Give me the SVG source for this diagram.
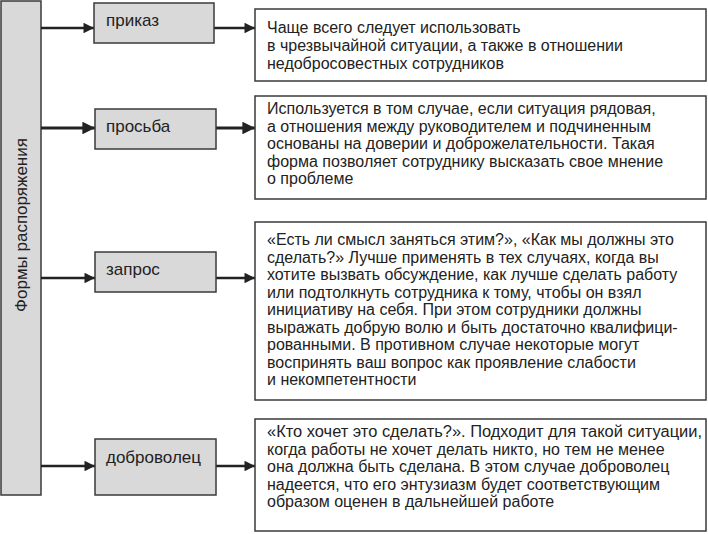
<svg xmlns="http://www.w3.org/2000/svg" width="708" height="534" viewBox="0 0 708 534">
<defs>
<style>
.form{fill:#d9d9d9;stroke:#3a3a3a;stroke-width:1.5}
.desc{fill:#ffffff;stroke:#3a3a3a;stroke-width:1.5}
.lbl{font-family:"Liberation Sans",Arial,sans-serif;font-size:17px;fill:#222}
.txt{font-family:"Liberation Sans",Arial,sans-serif;font-size:16px;fill:#222}
.conn{stroke:#222;stroke-width:2.5;fill:none;marker-end:url(#ah)}
</style>
<marker id="ah" viewBox="0 0 10 10" refX="10" refY="5" markerWidth="4.6" markerHeight="4.2" orient="auto" markerUnits="strokeWidth">
<path d="M0,0 L10,5 L0,10 z" fill="#222"/>
</marker>
</defs>
<rect width="708" height="534" fill="#ffffff"/>
<g id="root">
<rect class="form" x="1" y="1" width="40" height="494"/>
<text class="lbl" transform="translate(27 225) rotate(-90)" text-anchor="middle">Формы распоряжения</text>
</g>
<g id="connectors">
<line class="conn" x1="41" y1="28" x2="94" y2="28"/>
<line class="conn" x1="214" y1="28" x2="255" y2="28"/>
<line class="conn" x1="41" y1="128" x2="95" y2="128" style="stroke-width:3"/>
<line class="conn" x1="216" y1="128" x2="255" y2="128" style="stroke-width:3"/>
<line class="conn" x1="41" y1="278" x2="95" y2="278"/>
<line class="conn" x1="216" y1="278" x2="255" y2="278"/>
<line class="conn" x1="41" y1="466" x2="95" y2="466"/>
<line class="conn" x1="216" y1="466" x2="255" y2="466"/>
</g>
<g id="prikaz">
<rect class="form" x="94" y="3" width="120" height="40"/>
<text class="lbl" x="106" y="26">приказ</text>
</g>
<g id="prosba">
<rect class="form" x="95" y="109" width="121" height="40"/>
<text class="lbl" x="106" y="132">просьба</text>
</g>
<g id="zapros">
<rect class="form" x="95" y="252" width="121" height="40"/>
<text class="lbl" x="106" y="275">запрос</text>
</g>
<g id="dobrovolets">
<rect class="form" x="95" y="439" width="121" height="56"/>
<text class="lbl" x="106" y="463">доброволец</text>
</g>
<g id="desc-prikaz">
<rect class="desc" x="255" y="9" width="451" height="72"/>
<text class="txt" x="267" y="33">Чаще всего следует использовать</text>
<text class="txt" x="267" y="51">в чрезвычайной ситуации, а также в отношении</text>
<text class="txt" x="267" y="69">недобросовестных сотрудников</text>
</g>
<g id="desc-prosba">
<rect class="desc" x="255" y="96" width="451" height="103"/>
<text class="txt" x="267" y="114">Используется в том случае, если ситуация рядовая,</text>
<text class="txt" x="267" y="131.5">а отношения между руководителем и подчиненным</text>
<text class="txt" x="267" y="149">основаны на доверии и доброжелательности. Такая</text>
<text class="txt" x="267" y="166.5">форма позволяет сотруднику высказать свое мнение</text>
<text class="txt" x="267" y="184">о проблеме</text>
</g>
<g id="desc-zapros">
<rect class="desc" x="255" y="222" width="451" height="178"/>
<text class="txt" x="267" y="245">«Есть ли смысл заняться этим?», «Как мы должны это</text>
<text class="txt" x="267" y="262.5">сделать?» Лучше применять в тех случаях, когда вы</text>
<text class="txt" x="267" y="280">хотите вызвать обсуждение, как лучше сделать работу</text>
<text class="txt" x="267" y="297.5">или подтолкнуть сотрудника к тому, чтобы он взял</text>
<text class="txt" x="267" y="315">инициативу на себя. При этом сотрудники должны</text>
<text class="txt" x="267" y="332.5">выражать добрую волю и быть достаточно квалифици-</text>
<text class="txt" x="267" y="350">рованными. В противном случае некоторые могут</text>
<text class="txt" x="267" y="367.5">воспринять ваш вопрос как проявление слабости</text>
<text class="txt" x="267" y="385">и некомпетентности</text>
</g>
<g id="desc-dobrovolets">
<rect class="desc" x="255" y="419" width="451" height="112"/>
<text class="txt" x="267" y="437" textLength="435" lengthAdjust="spacingAndGlyphs">«Кто хочет это сделать?». Подходит для такой ситуации,</text>
<text class="txt" x="267" y="454.5">когда работы не хочет делать никто, но тем не менее</text>
<text class="txt" x="267" y="472">она должна быть сделана. В этом случае доброволец</text>
<text class="txt" x="267" y="489.5">надеется, что его энтузиазм будет соответствующим</text>
<text class="txt" x="267" y="507">образом оценен в дальнейшей работе</text>
</g>
</svg>
